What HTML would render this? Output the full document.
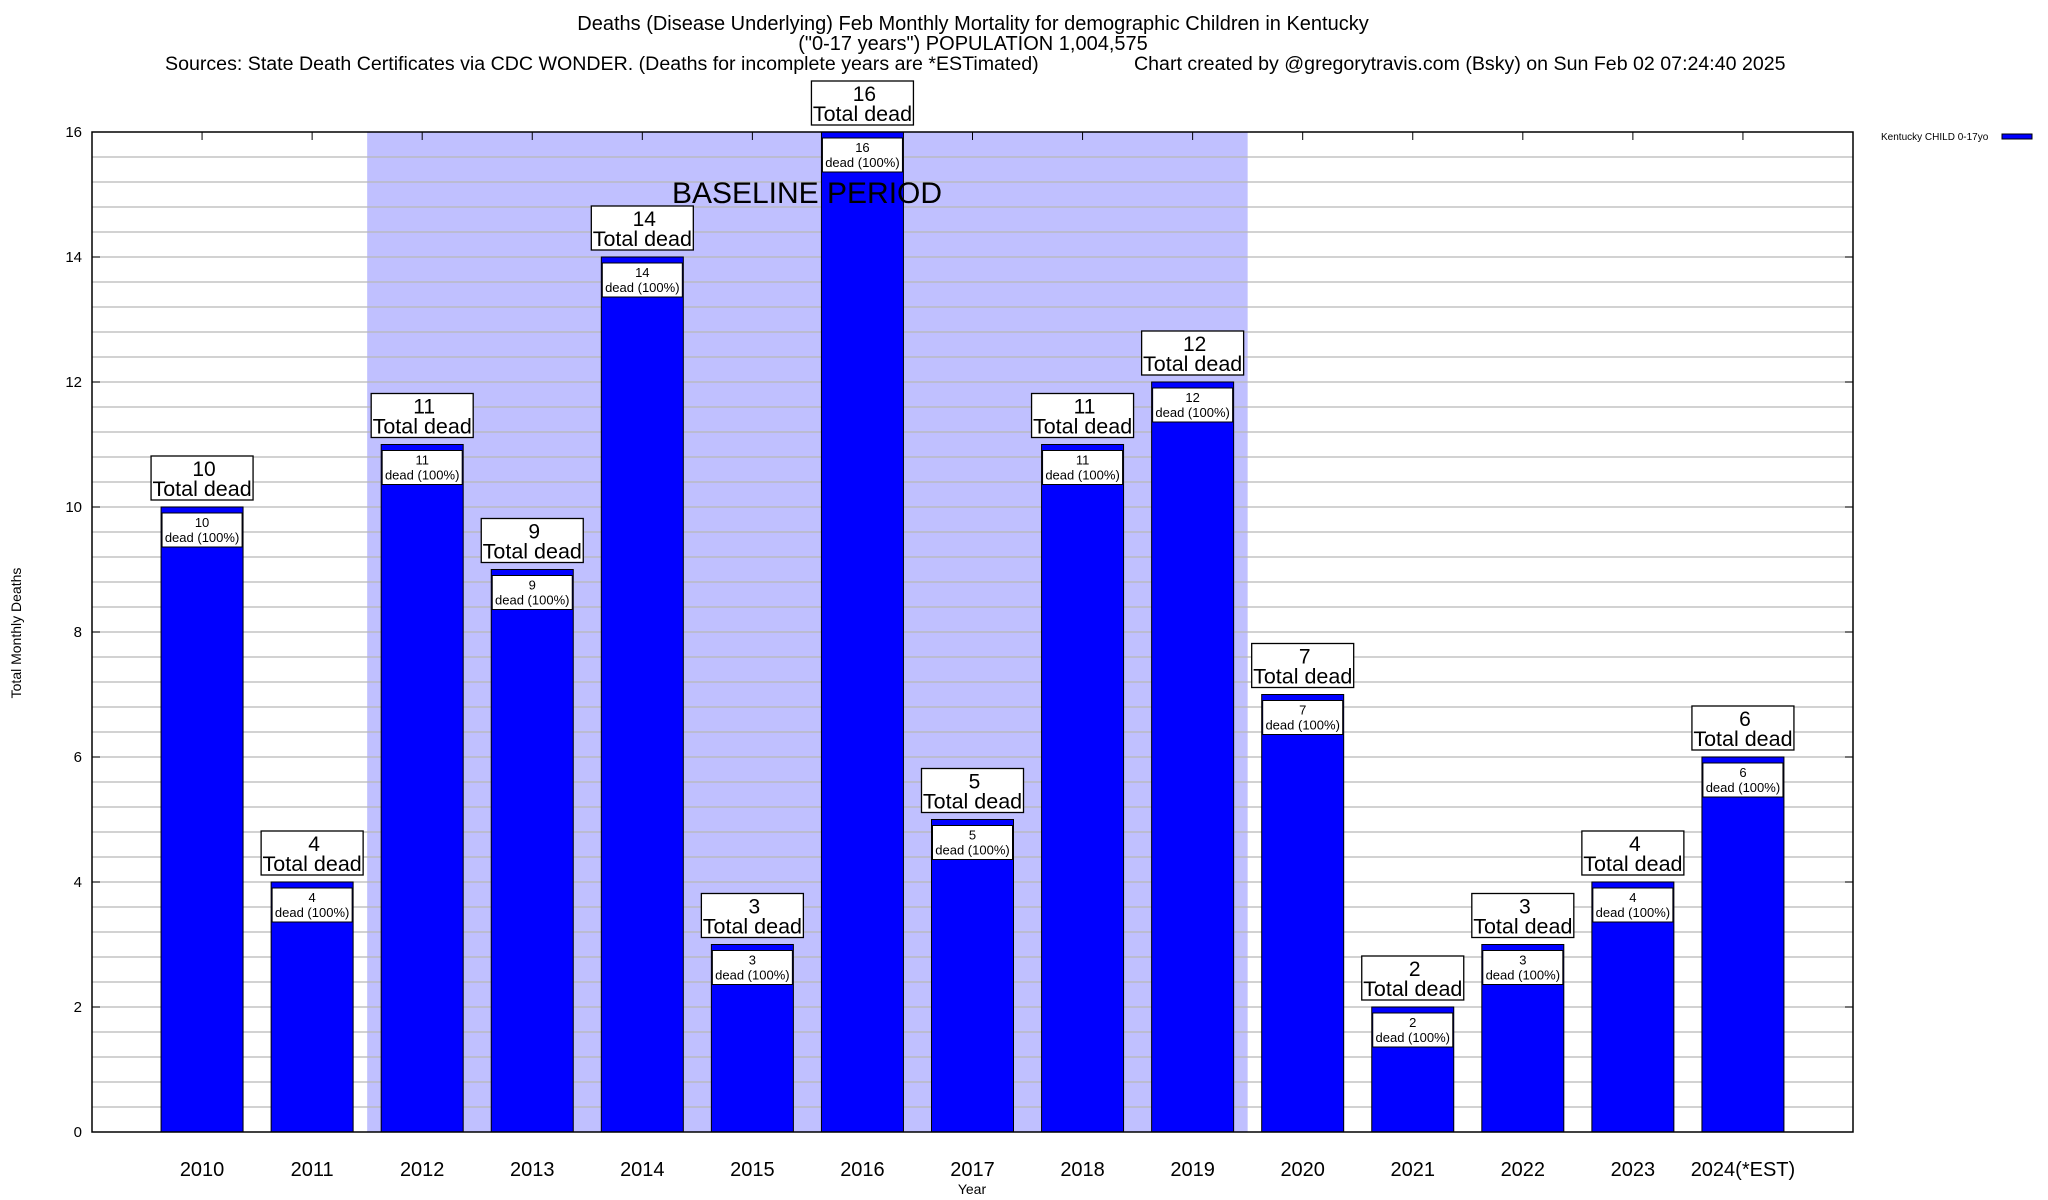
<!DOCTYPE html>
<html><head><meta charset="utf-8"><style>
html,body{margin:0;padding:0;background:#fff;}
svg{display:block;font-family:"Liberation Sans",Arial,sans-serif;}
</style></head><body>
<svg id="chart" width="2048" height="1200" viewBox="0 0 2048 1200" xmlns="http://www.w3.org/2000/svg">
<rect x="0" y="0" width="2048" height="1200" fill="#fff"/>
<text x="973" y="30" font-size="20" text-anchor="middle">Deaths (Disease Underlying) Feb Monthly Mortality for demographic Children in Kentucky</text>
<text x="973" y="50" font-size="20" text-anchor="middle">("0-17 years") POPULATION 1,004,575</text>
<text x="165" y="70" font-size="19.6">Sources: State Death Certificates via CDC WONDER. (Deaths for incomplete years are *ESTimated)</text>
<text x="1134" y="70" font-size="19.6">Chart created by @gregorytravis.com (Bsky) on Sun Feb 02 07:24:40 2025</text>
<g id="plot"></g>
<text transform="translate(21,633) rotate(-90)" font-size="14" text-anchor="middle">Total Monthly Deaths</text>
<text x="972" y="1194" font-size="14" text-anchor="middle">Year</text>
<g>
<text x="1881" y="140" font-size="10">Kentucky CHILD 0-17yo</text>
<rect x="2002" y="134" width="30" height="5" fill="#0000ff" stroke="#000" stroke-width="1"/>
</g>
</svg>
<script>
const categories = ["2010","2011","2012","2013","2014","2015","2016","2017","2018","2019","2020","2021","2022","2023","2024(*EST)"];
const deaths = [10,4,11,9,14,3,16,5,11,12,7,2,3,4,6];
const yTicks = [0,2,4,6,8,10,12,14,16];
const baselineRange = [1.5, 9.5];

const L=92,R=1853,T=132,B=1132,yMax=16;
const NS="http://www.w3.org/2000/svg";
const g=document.getElementById('plot');
const step=(R-L)/(categories.length+1);
function xPos(i){return L+(i+1)*step;}
function yPos(v){return B-(v/yMax)*(B-T);}
function mk(tag,attrs,parent){const e=document.createElementNS(NS,tag);for(const k in attrs)e.setAttribute(k,attrs[k]);(parent||g).appendChild(e);return e;}

const sh=mk('rect',{x:xPos(baselineRange[0]),y:T,width:xPos(baselineRange[1])-xPos(baselineRange[0]),height:B-T,fill:'#c0c0ff'});


for(let k=1;k<40;k++){const v=k*0.4;const y=yPos(v);
 const ln=mk('line',{x1:L,x2:R,y1:y,y2:y,stroke:'#b8b8b8','stroke-width':1.3});
 
 
}
yTicks.forEach(v=>{const y=yPos(v);
 const t=mk('text',{x:82,y:y+5,'font-size':15,'text-anchor':'end'});t.textContent=v;
 
 
 mk('line',{x1:L,x2:L+8,y1:y,y2:y,stroke:'#000'});
 mk('line',{x1:R-8,x2:R,y1:y,y2:y,stroke:'#000'});
});
const bw=82;
categories.forEach((c,i)=>{
 const x=xPos(i),v=deaths[i],yt=yPos(v);
 mk('line',{x1:x,x2:x,y1:T,y2:T+8,stroke:'#000'});
 mk('line',{x1:x,x2:x,y1:B,y2:B-8,stroke:'#000'});
 const b=mk('rect',{x:x-bw/2,y:yt,width:bw,height:B-yt,fill:'#0000ff',stroke:'#000','stroke-width':1});
 
 
 const ib=mk('rect',{x:x-bw/2+1,y:yt+6,width:bw-2,height:34,fill:'#fff',stroke:'#000','stroke-width':1});
 
 
 const t1=mk('text',{x:x,y:yt+20,'font-size':13,'text-anchor':'middle'});t1.textContent=v;
 
 
 const t2=mk('text',{x:x,y:yt+35,'font-size':13,'text-anchor':'middle'});t2.textContent='dead (100%)';
 
 
 const ob=mk('rect',{x:x-51,y:yt-51,width:102,height:44,fill:'#fff',stroke:'#000','stroke-width':1.3});
 
 
 const t3=mk('text',{x:x+2,y:yt-31,'font-size':21,'text-anchor':'middle'});t3.textContent=v;
 
 
 const t4=mk('text',{x:x,y:yt-11,'font-size':21.5,'text-anchor':'middle'});t4.textContent='Total dead';
 
 
 const xl=mk('text',{x:x,y:1176,'font-size':20,'text-anchor':'middle'});xl.textContent=c;
 
 
});
const bl=mk('text',{x:807,y:203,'font-size':30,'text-anchor':'middle'});
bl.textContent='BASELINE PERIOD';


const fr=mk('rect',{x:L,y:T,width:R-L,height:B-T,fill:'none',stroke:'#000','stroke-width':1.5});


</script>
</body></html>
